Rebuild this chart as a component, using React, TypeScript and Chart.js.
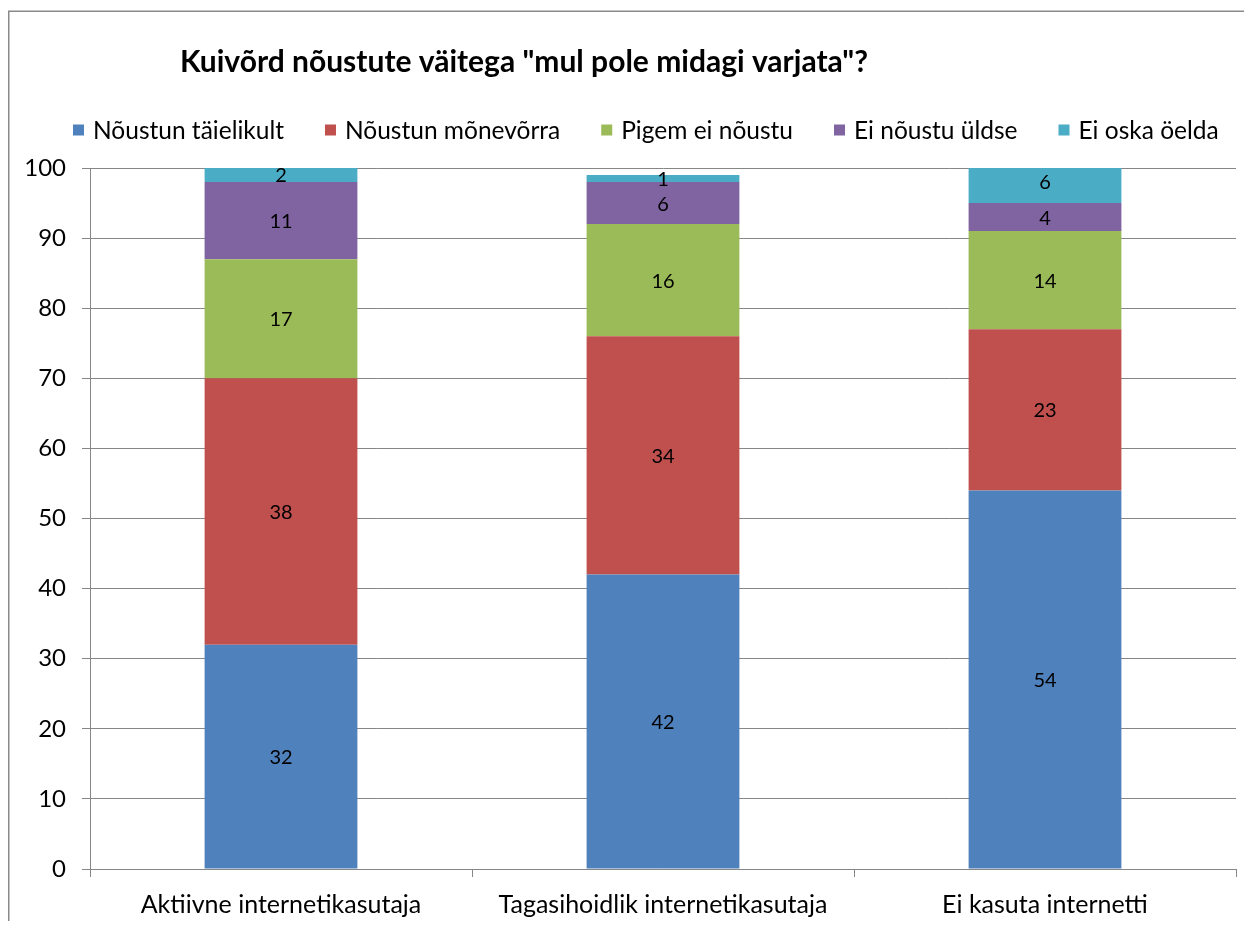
import React, { useEffect, useRef } from "react";
import { Chart, registerables } from "chart.js";

Chart.register(...registerables);

const categories = ["Aktiivne internetikasutaja", "Tagasihoidlik internetikasutaja", "Ei kasuta internetti"];
const seriesNames = ["Nõustun täielikult", "Nõustun mõnevõrra", "Pigem ei nõustu", "Ei nõustu üldse", "Ei oska öelda"];
const seriesColors = ["#4F81BD", "#C0504D", "#9BBB59", "#8064A2", "#4BACC6"];
const taielikult = [32, 42, 54];
const monevorra = [38, 34, 23];
const pigemEi = [17, 16, 14];
const uldse = [11, 6, 4];
const eiOska = [2, 1, 6];
const seriesValues = [taielikult, monevorra, pigemEi, uldse, eiOska];
const yTicks = [0, 10, 20, 30, 40, 50, 60, 70, 80, 90, 100];
const titleText = 'Kuivõrd nõustute väitega "mul pole midagi varjata"?';

const FONT = "Lato, 'Open Sans', sans-serif";
const GRID = "#868686";

const decorPlugin = {
  id: "decor",
  beforeDraw(chart: any) {
    const ctx = chart.ctx;
    ctx.save();
    ctx.fillStyle = "#ffffff";
    ctx.fillRect(0, 0, chart.width, chart.height);
    ctx.strokeStyle = "#8a8a8a";
    ctx.lineWidth = 1.5;
    ctx.beginPath();
    ctx.moveTo(0.75, chart.height);
    ctx.lineTo(0.75, 3.25);
    ctx.lineTo(chart.width, 3.25);
    ctx.stroke();
    ctx.restore();
  },
  afterDraw(chart: any) {
    const ctx = chart.ctx;
    ctx.save();
    // title
    ctx.fillStyle = "#000000";
    ctx.font = `bold 30px ${FONT}`;
    ctx.textBaseline = "middle";
    ctx.textAlign = "left";
    ctx.fillText(titleText, 172, 54);
    // legend
    ctx.font = `24.5px ${FONT}`;
    const box = 11;
    const gap = 9;
    const itemGap = 41;
    let x = 65;
    const y = 122;
    chart.data.datasets.forEach((ds: any) => {
      ctx.fillStyle = ds.backgroundColor;
      ctx.fillRect(x, y - box / 2, box, box);
      ctx.fillStyle = "#000000";
      ctx.fillText(ds.label, x + box + gap, y + 1);
      x += box + gap + ctx.measureText(ds.label).width + itemGap;
    });
    ctx.restore();
  },
  afterDatasetsDraw(chart: any) {
    const ctx = chart.ctx;
    ctx.save();
    ctx.font = `20px ${FONT}`;
    ctx.fillStyle = "#000000";
    ctx.textAlign = "center";
    ctx.textBaseline = "middle";
    chart.data.datasets.forEach((ds: any, di: number) => {
      const meta = chart.getDatasetMeta(di);
      meta.data.forEach((el: any, i: number) => {
        const p = el.getProps(["x", "y", "base"], true);
        ctx.fillText(String(ds.data[i]), p.x, (p.y + p.base) / 2 + 1);
      });
    });
    ctx.restore();
  },
};

export default function App() {
  const ref = useRef<HTMLCanvasElement>(null);
  useEffect(() => {
    if (!ref.current) return;
    const chart = new Chart(ref.current, {
      type: "bar",
      data: {
        labels: categories,
        datasets: seriesNames.map((name, i) => ({
          label: name,
          data: seriesValues[i],
          backgroundColor: seriesColors[i],
          borderWidth: 0,
          categoryPercentage: 1,
          barPercentage: 0.4,
        })),
      },
      options: {
        responsive: false,
        animation: false,
        devicePixelRatio: 1,
        layout: { padding: { top: 160, left: 0, right: 16, bottom: 0 } },
        plugins: {
          legend: { display: false },
          title: { display: false },
          tooltip: { enabled: false },
        },
        scales: {
          x: {
            stacked: true,
            afterFit: (s: any) => { s.height = 52; },
            grid: { drawOnChartArea: false, drawTicks: true, tickLength: 8, color: GRID },
            border: { display: true, color: GRID },
            ticks: { color: "#000000", font: { family: FONT, size: 25 }, padding: 13, maxRotation: 0 },
          },
          y: {
            stacked: true,
            min: 0,
            max: 100,
            afterFit: (s: any) => { s.width = 82; },
            afterBuildTicks: (s: any) => { s.ticks = yTicks.map((v) => ({ value: v })); },
            grid: { color: GRID, drawTicks: true, tickLength: 8 },
            border: { display: true, color: GRID },
            ticks: { color: "#000000", font: { family: FONT, size: 24 }, padding: 16 },
          },
        },
      },
      plugins: [decorPlugin],
    });
    return () => chart.destroy();
  }, []);
  return (
    <div style={{ width: 1244, height: 913 }}>
      <canvas ref={ref} width={1244} height={913} style={{ display: "block" }} />
    </div>
  );
}
